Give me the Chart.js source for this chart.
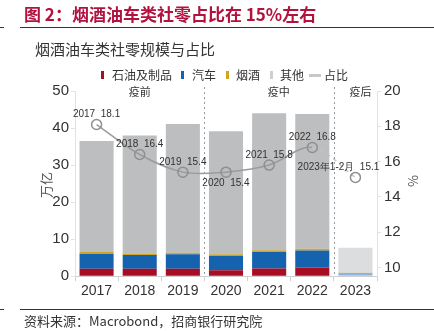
<!DOCTYPE html>
<html>
<head>
<meta charset="utf-8">
<script src="https://cdn.jsdelivr.net/npm/chart.js@4.4.1/dist/chart.umd.min.js"></script>
<style>
  html, body { margin: 0; padding: 0; background: #fff; }
  #wrap { position: relative; width: 434px; height: 331px; }
</style>
</head>
<body>
<div id="wrap"><canvas id="myChart" width="434" height="331"></canvas></div>
<script>
// data
const years = ["2017", "2018", "2019", "2020", "2021", "2022", "2023"];
const oil = [2.0, 2.0, 2.0, 1.6, 2.1, 2.35, 0.35];
const cars = [4.0, 3.7, 3.9, 3.9, 4.4, 4.6, 0.6];
const tobacco = [0.5, 0.45, 0.45, 0.45, 0.5, 0.45, 0.15];
const others = [30.0, 31.85, 34.75, 33.15, 37.0, 36.4, 6.6];
const share = [18.1, 16.4, 15.4, 15.4, 15.8, 16.8, 15.1];
const shareLabels = ["2017  18.1", "2018  16.4", "2019  15.4", "2020  15.4", "2021  15.8", "2022  16.8", "2023年1-2月  15.1"];
const periods = ["疫前", "疫中", "疫后"];

const cjk = '"Noto Sans CJK SC", sans-serif';
const num = '"Liberation Sans", Arial, sans-serif';

// per-bar colours, the 2023 bar is drawn lighter
function cols(dark, light) {
    return years.map((y, i) => i == years.length - 1 ? light : dark);
}

function legendIcon(color, w, h) {
    const c = document.createElement("canvas");
    c.width = w; c.height = h;
    const g = c.getContext("2d");
    g.fillStyle = color;
    g.fillRect(0, 0, w, h);
    return c;
}

const decor = {
    id: "decor",
    afterDraw(chart) {
        const ctx = chart.ctx;
        const area = chart.chartArea;
        const x = chart.scales.x;
        ctx.save();
        // heading
        ctx.fillStyle = "#b3123f";
        ctx.font = "bold 17px " + cjk;
        ctx.textBaseline = "middle";
        ctx.fillText("图 2：烟酒油车类社零占比在 15%左右", 24, 15);
        ctx.strokeStyle = "#333";
        ctx.lineWidth = 1;
        ctx.beginPath();
        ctx.moveTo(0, 27.5); ctx.lineTo(4, 27.5);
        ctx.moveTo(20, 27.5); ctx.lineTo(434, 27.5);
        ctx.moveTo(0, 309.5); ctx.lineTo(4, 309.5);
        ctx.moveTo(20, 309.5); ctx.lineTo(434, 309.5);
        ctx.stroke();
        ctx.fillStyle = "#333";
        ctx.font = "15px " + cjk;
        ctx.fillText("烟酒油车类社零规模与占比", 35, 49);
        ctx.font = "13px " + cjk;
        ctx.fillText("资料来源：Macrobond，招商银行研究院", 24, 321);

        // axis titles
        ctx.font = "13px " + cjk;
        ctx.fillStyle = "#555";
        ctx.textAlign = "center";
        ctx.save();
        ctx.translate(46, 185);
        ctx.rotate(-Math.PI / 2);
        ctx.fillText("万亿", 0, 0);
        ctx.restore();
        ctx.save();
        ctx.translate(413, 181);
        ctx.rotate(Math.PI / 2);
        ctx.fillText("%", 0, 0);
        ctx.restore();

        // period dividers
        const step = x.getPixelForValue(1) - x.getPixelForValue(0);
        const d1 = x.getPixelForValue(2) + step / 2;
        const d2 = x.getPixelForValue(5) + step / 2;
        ctx.strokeStyle = "#999";
        ctx.setLineDash([2, 3]);
        ctx.beginPath();
        ctx.moveTo(Math.round(d1) + 0.5, area.top - 4); ctx.lineTo(Math.round(d1) + 0.5, area.bottom);
        ctx.moveTo(Math.round(d2) + 0.5, area.top - 4); ctx.lineTo(Math.round(d2) + 0.5, area.bottom);
        ctx.stroke();
        ctx.setLineDash([]);
        ctx.fillStyle = "#333";
        ctx.font = "11px " + cjk;
        ctx.fillText(periods[0], x.getPixelForValue(1), area.top + 1);
        ctx.fillText(periods[1], (x.getPixelForValue(4) + x.getPixelForValue(5)) / 2 - 12, area.top + 1);
        ctx.fillText(periods[2], x.getPixelForValue(6) + 5, area.top + 1);

        // labels on the share line
        const meta = chart.getDatasetMeta(4);
        ctx.font = "10px " + num;
        ctx.fillStyle = "#333";
        meta.data.forEach((p, i) => {
            let dx = 0, dy = -10;
            if (i == 3) dy = 11;
            if (i == 6) { dx = -17; dy = -10; }
            ctx.fillText(shareLabels[i], p.x + dx, p.y + dy);
        });
        ctx.restore();
    }
};

const ctx = document.getElementById("myChart").getContext("2d");
const myChart = new Chart(ctx, {
    type: "bar",
    data: {
        labels: years,
        datasets: [{
            label: "石油及制品",
            data: oil,
            backgroundColor: cols("#a80d24", "#f2a0ab"),
            legendIcon: legendIcon("#a80d24", 3, 8),
            order: 2,
        }, {
            label: "汽车",
            data: cars,
            backgroundColor: cols("#1562ae", "#8fb3de"),
            legendIcon: legendIcon("#1562ae", 3, 8),
            order: 2,
        }, {
            label: "烟酒",
            data: tobacco,
            backgroundColor: cols("#d2a426", "#ecd79a"),
            legendIcon: legendIcon("#d2a426", 3, 8),
            order: 2,
        }, {
            label: "其他",
            data: others,
            backgroundColor: cols("#bdbec0", "#dcddde"),
            legendIcon: legendIcon("#cfcfcf", 3, 8),
            order: 2,
        }, {
            type: "line",
            label: "占比",
            data: share,
            yAxisID: "y1",
            borderColor: "#9b9b9b",
            borderWidth: 1.5,
            tension: 0.35,
            pointRadius: 5,
            pointBorderWidth: 1.5,
            pointBackgroundColor: "rgba(255,255,255,0)",
            pointBorderColor: "#8f8f8f",
            legendIcon: legendIcon("#c8c8c8", 12, 3),
            segment: {
                borderDash: (s) => s.p1DataIndex == 6 ? [4, 4] : undefined,
                borderColor: (s) => s.p1DataIndex == 6 ? "#c4c4c4" : undefined,
            },
            order: 1,
        }],
    },
    options: {
        responsive: false,
        animation: false,
        layout: {
            padding: { top: 61, left: 30, right: 16, bottom: 29 },
        },
        datasets: {
            bar: { categoryPercentage: 1, barPercentage: 0.79 },
        },
        plugins: {
            tooltip: { enabled: false },
            legend: {
                position: "top",
                labels: {
                    usePointStyle: true,
                    boxHeight: 8,
                    boxWidth: 6,
                    padding: 8,
                    color: "#333",
                    font: { family: cjk, size: 12 },
                    sort: (a, b) => a.datasetIndex - b.datasetIndex,
                    generateLabels: (chart) => {
                        const items = Chart.defaults.plugins.legend.labels.generateLabels(chart);
                        items.forEach((it) => {
                            it.pointStyle = chart.data.datasets[it.datasetIndex].legendIcon;
                        });
                        return items;
                    },
                },
            },
        },
        scales: {
            x: {
                stacked: true,
                grid: { drawOnChartArea: false, tickLength: 5, color: "#cfcfcf" },
                border: { color: "#cfcfcf" },
                ticks: { color: "#333", font: { family: num, size: 14 }, padding: 2 },
            },
            y: {
                stacked: true,
                min: 0,
                max: 50,
                grid: { drawOnChartArea: false, tickLength: 4, color: "#e2e2e2" },
                border: { color: "#e2e2e2" },
                ticks: { stepSize: 5, color: "#333", font: { family: num, size: 15 }, padding: 2 },
                afterFit: (s) => { s.width = 45; },
            },
            y1: {
                position: "right",
                min: 9.5,
                max: 20,
                grid: { drawOnChartArea: false, tickLength: 4, color: "#e2e2e2" },
                border: { color: "#e2e2e2" },
                ticks: {
                    color: "#333",
                    font: { family: num, size: 15 },
                    padding: 3,
                    callback: (v) => Number.isInteger(v) ? v : null,
                },
                afterBuildTicks: (s) => {
                    s.ticks = [10, 11, 12, 13, 14, 15, 16, 17, 18, 19, 20].map((v) => ({ value: v }));
                },
                afterFit: (s) => { s.width = 41; },
            },
        },
    },
    plugins: [decor],
});
</script>
</body>
</html>
